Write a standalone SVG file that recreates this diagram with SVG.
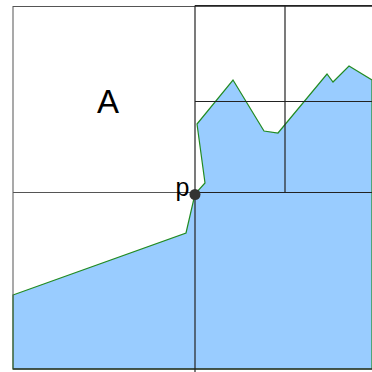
<svg xmlns="http://www.w3.org/2000/svg" width="372" height="372" viewBox="0 0 372 372">
<style>
.frame{fill:none;stroke:#555;stroke-width:1}
.grid{fill:none;stroke:#222;stroke-width:1.2}
.region{fill:#99ccff;stroke:#228b22;stroke-width:1.2;stroke-linejoin:miter}
.lbl{font-family:"Liberation Sans",Arial,sans-serif;fill:#000}
</style>
<rect width="372" height="372" fill="#fff"/>
<g id="region">
<polygon class="region" points="13,295 186,233 195,194 205,183 197,124 233,80 264,131 278,133 327,74 333,82 349,66 372,80 372,369 13,369"/>
</g>
<g id="connectors">
<rect class="frame" x="13" y="6.5" width="370" height="362.5"/>
<line class="frame" x1="13" y1="192.5" x2="195" y2="192.5"/>
<line class="grid" x1="195" y1="5.5" x2="372" y2="5.5"/>
<line class="grid" x1="195" y1="5.5" x2="195" y2="372"/>
<line class="grid" x1="195" y1="192.5" x2="372" y2="192.5"/>
<line class="grid" x1="285" y1="5.5" x2="285" y2="192.5"/>
<line class="grid" x1="195" y1="101.5" x2="372" y2="101.5"/>
<line class="grid" x1="13" y1="369" x2="372" y2="369"/>
</g>
<g id="nodeA">
<text class="lbl" x="108" y="113" font-size="33" text-anchor="middle">A</text>
</g>
<g id="nodeP">
<circle cx="195" cy="194.5" r="5.5" fill="#333"/>
<text class="lbl" x="182.5" y="196" font-size="25" text-anchor="middle">p</text>
</g>
</svg>
